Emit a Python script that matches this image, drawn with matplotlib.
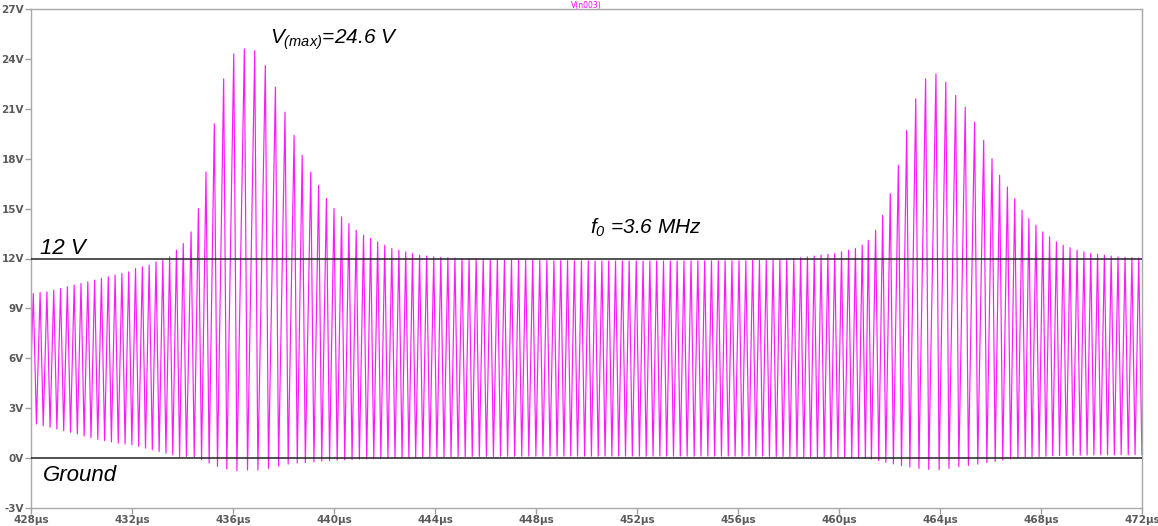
import numpy as np
import matplotlib.pyplot as plt

plt.rcParams['mathtext.fontset'] = 'custom'
plt.rcParams['mathtext.it'] = 'Liberation Sans:italic'
plt.rcParams['mathtext.rm'] = 'Liberation Sans:italic'

# V(n003): time of every positive peak (us), its peak voltage and the
# following negative swing (V)
peak_t = [
    428.09, 428.36, 428.63, 428.90, 429.17, 429.44, 429.71, 429.98, 430.25, 430.52,
    430.79, 431.06, 431.33, 431.60, 431.87, 432.14, 432.41, 432.68, 432.95, 433.22,
    433.49, 433.76, 434.03,
    434.34, 434.63, 434.93, 435.26, 435.63, 436.03, 436.45, 436.86, 437.28, 437.68,
    438.06, 438.42, 438.74, 439.08, 439.39, 439.70, 440.00, 440.30, 440.59, 440.88,
    441.17, 441.45, 441.73, 442.01, 442.29, 442.57, 442.84, 443.11, 443.39,
    443.67, 443.95, 444.23, 444.51, 444.79, 445.07, 445.35, 445.63, 445.91, 446.19,
    446.47, 446.75, 447.03, 447.31, 447.59, 447.87, 448.15, 448.43, 448.71,
    448.98, 449.25, 449.52, 449.80, 450.07, 450.34, 450.61, 450.88, 451.15, 451.42,
    451.69, 451.97, 452.24, 452.51, 452.78, 453.05, 453.32, 453.59, 453.86, 454.14,
    454.41, 454.68, 454.95, 455.22, 455.49, 455.76, 456.04, 456.31, 456.58, 456.85,
    457.12, 457.39, 457.66, 457.93, 458.21, 458.48, 458.75, 459.02, 459.29, 459.56,
    459.83, 460.10, 460.38, 460.65, 460.92,
    461.16, 461.45, 461.73, 462.03, 462.35, 462.68, 463.04, 463.43, 463.84, 464.23,
    464.62, 465.00, 465.37, 465.73, 466.06, 466.36,
    466.67, 466.96, 467.25, 467.52, 467.80, 468.07, 468.34, 468.61, 468.88, 469.15,
    469.43, 469.70, 469.97, 470.24, 470.51, 470.78, 471.05, 471.33, 471.60, 471.87,
]
peak_v = [
    9.9, 9.95, 10.0, 10.1, 10.2, 10.3, 10.4, 10.5, 10.6, 10.7,
    10.8, 10.9, 11.0, 11.1, 11.2, 11.4, 11.5, 11.6, 11.8, 11.9,
    12.1, 12.5, 12.9,
    13.6, 15.0, 17.2, 20.1, 22.8, 24.3, 24.6, 24.5, 23.6, 22.3,
    20.8, 19.4, 18.2, 17.2, 16.4, 15.6, 15.0, 14.5, 14.1, 13.7,
    13.4, 13.2, 13.0, 12.8, 12.6, 12.5, 12.4, 12.3, 12.2,
    12.15, 12.1, 12.08, 12.05, 12.03, 12.0, 12.0, 11.98, 11.97, 11.95,
    11.95, 11.93, 11.92, 11.9, 11.9, 11.9, 11.88, 11.88, 11.87,
    11.87, 11.87, 11.86, 11.86, 11.86, 11.85, 11.85, 11.85, 11.85, 11.85,
    11.85, 11.85, 11.85, 11.85, 11.85, 11.85, 11.85, 11.85, 11.86, 11.86,
    11.86, 11.86, 11.86, 11.86, 11.87, 11.87, 11.87, 11.87, 11.88, 11.88,
    11.9, 11.92, 11.95, 11.98, 12.0, 12.05, 12.1, 12.15, 12.2, 12.25,
    12.3, 12.4, 12.5, 12.6, 12.8,
    13.1, 13.7, 14.6, 15.9, 17.6, 19.7, 21.6, 22.8, 23.1, 22.6,
    21.8, 21.1, 20.2, 19.1, 18.0, 17.0,
    16.3, 15.6, 14.9, 14.4, 14.0, 13.6, 13.3, 13.0, 12.8, 12.65,
    12.5, 12.4, 12.3, 12.25, 12.2, 12.15, 12.1, 12.08, 12.05, 12.03,
]
trough_v = [
    2.05, 1.95, 1.85, 1.75, 1.65, 1.55, 1.45, 1.33, 1.23, 1.13,
    1.05, 0.97, 0.9, 0.85, 0.8, 0.7, 0.6, 0.5, 0.4, 0.3,
    0.2, 0.1, 0.1,
    0.05, -0.1, -0.3, -0.5, -0.66, -0.76, -0.72, -0.72, -0.62, -0.48,
    -0.36, -0.3, -0.28, -0.22, -0.18, -0.15, -0.12, -0.1, -0.08, -0.06,
    -0.05, -0.04, -0.03, -0.02, -0.01, 0.0, 0.0, 0.02, 0.03,
    0.04, 0.05, 0.06, 0.07, 0.08, 0.09, 0.1, 0.1, 0.1, 0.1,
    0.11, 0.11, 0.11, 0.12, 0.12, 0.12, 0.12, 0.12, 0.12,
    0.12, 0.12, 0.12, 0.12, 0.12, 0.12, 0.12, 0.12, 0.12, 0.12,
    0.12, 0.12, 0.12, 0.12, 0.12, 0.12, 0.12, 0.12, 0.12, 0.12,
    0.12, 0.12, 0.12, 0.12, 0.12, 0.12, 0.12, 0.12, 0.12, 0.12,
    0.11, 0.1, 0.1, 0.09, 0.09, 0.08, 0.08, 0.07, 0.06, 0.05,
    0.04, 0.03, 0.02, 0.01, 0.0,
    -0.05, -0.15, -0.25, -0.35, -0.45, -0.53, -0.62, -0.68, -0.7, -0.62,
    -0.52, -0.44, -0.36, -0.28, -0.2, -0.12,
    -0.05, 0.0, 0.05, 0.08, 0.1, 0.12, 0.14, 0.15, 0.16, 0.17,
    0.18, 0.18, 0.19, 0.2, 0.2, 0.2, 0.2, 0.2, 0.2, 0.2,
]
start_t, start_v = 428.0, 5.5

y_ticks = list(range(-3, 28, 3))
x_ticks = list(range(428, 473, 4))

FALL_US = 0.125  # peak -> trough time of each swing

t = np.empty(2 * len(peak_t))
v = np.empty(2 * len(peak_t))
t[0::2] = peak_t
t[1::2] = np.array(peak_t) + FALL_US
v[0::2] = peak_v
v[1::2] = trough_v
t = np.concatenate([[start_t], t])
v = np.concatenate([[start_v], v])

fig = plt.figure(figsize=(11.58, 5.26), dpi=100)
ax = fig.add_axes([31 / 1158, 18 / 526, 1111 / 1158, 499 / 526])

ax.plot(t, v, color='#ff19ff', lw=0.85, zorder=2)
ax.axhline(12, color='#222222', lw=1.1, zorder=3)
ax.axhline(0, color='#222222', lw=1.1, zorder=3)

ax.set_xlim(428, 472)
ax.set_ylim(-3, 27)
ax.set_yticks(y_ticks)
ax.set_yticklabels([f'{y}V' for y in y_ticks])
ax.set_xticks(x_ticks)
ax.set_xticklabels([f'{x}\u00b5s' for x in x_ticks])
ax.tick_params(colors='#a0a0a0', labelcolor='#5a5a5a', length=4, width=1,
               labelsize=7.5, pad=1)
for lab in ax.get_xticklabels() + ax.get_yticklabels():
    lab.set_fontweight('bold')
for sp in ax.spines.values():
    sp.set_color('#a8a8a8')
    sp.set_linewidth(1)

txt = dict(style='italic', family='Liberation Sans', color='black')
ax.text(437.47, 24.9, f'$V_{{(max)}}$={max(peak_v):.1f} V', fontsize=15, **txt)
ax.text(428.36, 12.3, '12 V', fontsize=16, **txt)
ax.text(428.46, -1.35, 'Ground', fontsize=16, **txt)
ax.text(450.14, 13.5, '$f_0$ =3.6 MHz', fontsize=15, **txt)

# trace name above the plot
fig.text(586 / 1158, 0.999, 'V(n003)', color='#ff00ff', fontsize=5.5,
         ha='center', va='top')

fig.savefig('out.png', dpi=100)
